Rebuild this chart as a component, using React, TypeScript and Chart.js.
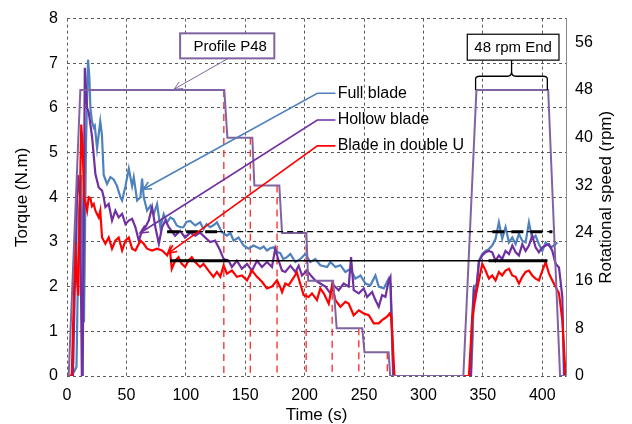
import React, { useEffect, useRef } from 'react';
import { Chart, registerables } from 'chart.js';

Chart.register(...registerables);

// ---------------- data (time s, torque N.m) ----------------
const fullBlade: [number, number][] = [
  [0, 0], [3, 0], [6, 0.1], [8, 0.2], [10, 3.6], [12, 4.5], [14.3, 1.2], [16, 5.2], [17.7, 7.08], [18.8, 6.7],
  [19.7, 6.0], [21, 5.7], [22.5, 5.56], [23.4, 5.6], [25.3, 5.1], [28, 5.7], [29.4, 5.4], [30.9, 4.5], [33.7, 4.3],
  [36.5, 4.45], [39.3, 4.4], [42.1, 4.25], [45, 4.0], [46.4, 3.93], [49.2, 4.25], [52, 4.64], [54.8, 4.25],
  [56.2, 4.45], [59, 3.93], [61.8, 4.0], [63.2, 4.42], [64.6, 4.0], [67.4, 3.7], [70.2, 3.81], [73, 3.62],
  [75.8, 3.85], [78.6, 3.33], [81.4, 3.62], [84.2, 3.44], [87, 3.55], [89.6, 3.51], [92.4, 3.37], [95.4, 3.33],
  [98, 3.33], [100.5, 3.45], [103.7, 3.47], [107.9, 3.37], [112, 3.44], [114.9, 3.29], [117.5, 3.4], [120.5, 3.33],
  [123.5, 3.38], [126.2, 3.44], [130.4, 3.22], [134.6, 3.14], [137.5, 3.2], [140.2, 3.03], [144.4, 3.1],
  [148.6, 2.92], [152.8, 2.85], [157, 2.92], [160, 2.88], [162.7, 2.85], [165.5, 2.9], [168.3, 2.81], [171, 2.86],
  [173.9, 2.88], [176.5, 2.78], [179.5, 2.75], [182, 2.62], [185.2, 2.66], [188, 2.73], [192.2, 2.55],
  [196.4, 2.62], [200.6, 2.73], [204.8, 2.55], [209, 2.62], [213.2, 2.48], [218.9, 2.44], [221.7, 2.55],
  [225.9, 2.44], [230.1, 2.48], [234.3, 2.33], [238.5, 2.4], [242.7, 2.18], [247, 2.25], [251.2, 2.07],
  [255.4, 2.03], [259.6, 2.25], [262.4, 2.0], [266.6, 1.96], [270.8, 2.18], [272.2, 2.07], [274.5, 0],
  [340, 0], [341.5, 0.9], [342.4, 1.99], [345.2, 2.06], [346.7, 2.58], [349.5, 2.73], [352.3, 2.8], [355.1, 2.84],
  [357.9, 2.92], [360.7, 3.07], [363.5, 3.44], [366.3, 3.07], [369.1, 3.33], [372, 2.99], [374.8, 3.1],
  [377.6, 2.95], [380.4, 3.18], [383.2, 3.03], [386, 2.99], [388.8, 3.44], [391.6, 3.07], [394.4, 3.14],
  [397.2, 2.95], [400.1, 2.8], [402.9, 2.99], [407.1, 2.88], [409.9, 2.92], [412.7, 2.99],
];

const hollowBlade: [number, number][] = [
  [0, 0], [5, 0], [7, 2.5], [9, 4.5], [11, 4.0], [12.5, 0], [13.2, 0], [15, 6.9], [16.9, 6.0], [18.3, 5.9],
  [21.1, 5.35], [23.9, 4.52], [26.7, 4.22], [29.5, 4.15], [30.9, 4.0], [32.3, 3.78], [35.1, 3.85], [37.9, 3.48],
  [40.7, 3.7], [43.5, 3.55], [46.4, 3.63], [49.2, 3.4], [52, 3.48], [54.8, 3.52], [57.6, 3.33], [60.4, 3.03],
  [63.2, 3.25], [66, 3.33], [68.8, 3.48], [71.6, 3.78], [74.4, 3.33], [77.3, 2.96], [80, 3.33], [82.9, 3.48],
  [85.7, 3.33], [88, 3.25], [91, 3.14], [95.2, 3.25], [99.4, 3.1], [103.7, 3.21], [107.9, 3.14], [112, 3.21],
  [116.3, 3.1], [120.5, 3.0], [124.7, 3.03], [128.9, 2.81], [131.8, 2.62], [136, 2.58], [138.8, 2.44],
  [143, 2.58], [147.2, 2.4], [151.5, 2.51], [155.7, 2.36], [159.9, 2.58], [164.1, 2.44], [168.3, 2.55],
  [172.5, 2.44], [175.3, 2.85], [178.1, 2.58], [181, 2.36], [183.7, 2.33], [188, 2.47], [192.2, 2.33],
  [195, 2.47], [197.8, 2.25], [202, 2.36], [206.2, 2.22], [209, 2.14], [213.2, 2.07], [217.5, 2.0],
  [221.7, 1.85], [224.5, 2.03], [228.7, 1.92], [232.9, 2.07], [237.1, 2.0], [239.1, 2.66], [241.3, 1.92],
  [245.6, 1.85], [249.8, 1.96], [252.6, 1.77], [256.8, 1.88], [259.6, 1.7], [262.4, 1.55], [265.2, 1.81],
  [268, 1.77], [270.8, 2.14], [272.2, 2.22], [274.8, 0], [340, 0], [341, 1.32], [342.4, 1.91], [343.8, 1.77],
  [346.7, 2.55], [349.5, 2.7], [352.3, 2.77], [355.1, 2.8], [357.9, 2.77], [360.7, 2.58], [363.5, 2.7],
  [366.3, 2.62], [369.1, 2.8], [372, 2.73], [374.8, 2.92], [377.6, 2.77], [380.4, 2.7], [383.2, 2.95],
  [386, 2.8], [388.8, 2.92], [391.6, 3.14], [394.4, 2.88], [397.2, 2.77], [400.1, 2.88], [402.9, 2.92],
  [405.7, 2.95], [408.5, 2.8], [411.3, 2.51], [414.1, 2.43], [416.9, 1.77], [418.3, 0], [420, 0],
];

const doubleUBlade: [number, number][] = [
  [0, 0], [4, 0], [5.5, 1.5], [7, 3.0], [8.2, 2.2], [9.5, 1.8], [10.5, 3.5], [12, 5.63], [13, 5.2], [14.5, 4.0],
  [16.9, 3.7], [18.3, 4.0], [19.7, 3.98], [21, 3.8], [22.5, 3.85], [23.9, 3.7], [26.7, 3.55], [28, 3.7],
  [29.5, 3.1], [32.3, 2.96], [35.1, 3.1], [37.9, 2.85], [40.7, 3.03], [43.5, 3.1], [46.4, 2.81], [49.2, 3.03],
  [52, 3.1], [54.8, 2.85], [57.6, 2.81], [61.8, 3.03], [64.6, 2.96], [67.4, 2.85], [71.6, 2.81], [75.8, 2.85],
  [80, 2.81], [84.3, 2.7], [86.5, 2.85], [88.2, 2.4], [91, 2.58], [93.8, 2.66], [96.6, 2.51], [99.4, 2.44],
  [102.2, 2.58], [105, 2.66], [107.9, 2.55], [112, 2.44], [114.9, 2.51], [119.1, 2.36], [123.3, 2.22],
  [126.2, 2.33], [129, 2.22], [131.8, 2.47], [134.6, 2.29], [138.8, 2.36], [143, 2.22], [147.2, 2.25],
  [151.5, 2.14], [155.7, 2.36], [159.9, 2.22], [164.1, 2.11], [168.3, 1.96], [172.5, 2.0], [176.7, 2.14],
  [179.5, 1.99], [181, 1.88], [183.7, 2.07], [186.5, 2.03], [190.7, 2.2], [193.5, 2.32], [196.4, 2.06],
  [199.2, 1.81], [203.4, 1.77], [206.2, 1.85], [210.4, 1.7], [213.2, 1.96], [216.1, 1.85], [220.3, 1.62],
  [223.1, 2.03], [225.9, 1.7], [230.1, 1.55], [234.3, 1.66], [237.1, 1.62], [241.3, 1.36], [245.6, 1.47],
  [249.8, 1.4], [254, 1.36], [258.2, 1.18], [262.4, 1.18], [265.2, 1.25], [269.4, 1.33], [271.7, 1.4],
  [273, 1.3], [275.6, 0], [338.3, 0], [341, 1.25], [343.8, 1.77], [346.7, 2.14], [349.5, 2.51], [352.3, 2.36],
  [355.1, 2.18], [357.9, 2.25], [360.7, 2.14], [363.5, 2.33], [366.3, 2.25], [369.1, 2.36], [372, 2.4],
  [374.8, 2.25], [377.6, 2.22], [380.4, 2.07], [383.2, 2.22], [386, 2.33], [388.8, 2.36], [391.6, 2.25],
  [394.4, 2.18], [397.2, 2.14], [400.1, 2.36], [402.9, 2.55], [405.7, 2.29], [408.5, 2.14], [411.3, 1.99],
  [414.1, 1.85], [416.9, 1.25], [419.7, 0],
];

// Rotational speed profile P48 (time s, rpm)
const profileTime = [0, 1.4, 11.2, 132.4, 135, 156, 157.7, 178.7, 181, 201.5, 203, 224, 227, 248.5, 250.4, 270.7, 272, 333.6, 344.6, 405, 415, 420];
const profileRpm = [0, 0, 48, 48, 40, 40, 32, 32, 24, 24, 16, 16, 8, 8, 4, 4, 0, 0, 48, 48, 0, 0];

// Step change markers (time s, rpm of the step)
const stepMarkTime = [132, 154.3, 176.8, 201.3, 223.2, 245.6, 269.6];
const stepMarkRpm = [48, 40, 32, 24, 16, 8, 4];

// Mean torque levels
const meanDashedTorque = 3.23;
const meanDashedSpan: [number, number] = [84.3, 408.5];
const meanDashedBold: [number, number][] = [[84.3, 133], [358, 408.5]];
const meanSolidTorque = 2.58;
const meanSolidSpan: [number, number] = [86.8, 404.3];
const meanSolidBold: [number, number][] = [[86.8, 135.7], [354.8, 404.3]];

// Ticks
const timeTicks = [0, 50, 100, 150, 200, 250, 300, 350, 400];
const torqueTicks = [0, 1, 2, 3, 4, 5, 6, 7, 8];
const rpmTicks = [0, 8, 16, 24, 32, 40, 48, 56];

const seriesNames = ['Full blade', 'Hollow blade', 'Blade in double U'];
const profileLabel = 'Profile P48';
const endLabel = '48 rpm End';

// ---------------- annotation layout (data coordinates) ----------------
const calloutTips: [number, number][] = [[64.1, 4.18], [61.5, 3.2], [85.4, 2.75]];
const calloutKneeY = [6.33, 5.73, 5.15];
const calloutKneeX = 210.7;
const calloutEndX = 225.9;
const calloutTextX = 227.8;

const profileBox = { x0: 95.2, x1: 174.5, y0: 7.67, y1: 7.11 };
const profileArrow = { fx: 135.7, fy: 7.11, tx: 90.2, ty: 6.42 };
const endBox = { x0: 336.9, x1: 414.1, y0: 7.65, y1: 7.07 };
const endBrace = { x0: 343.9, x1: 404.3, xm: 374.2, top: 6.71, bottom: 6.4, tip: 7.07 };

const COLORS = {
  full: '#4F81BD',
  hollow: '#7030A0',
  doubleU: '#FF0000',
  profile: '#8064A2',
  grid: '#5a5a5a',
};
const FONT = "'Liberation Sans', Arial, sans-serif";

const toXY = (pts: [number, number][]) => pts.map(([x, y]) => ({ x, y }));

function segmentsData(spans: [number, number][], y: number) {
  const out: any[] = [];
  spans.forEach(([a, b], i) => {
    if (i > 0) out.push({ x: a, y: null });
    out.push({ x: a, y }, { x: b, y });
  });
  return out;
}

function arrowHead(ctx: CanvasRenderingContext2D, fx: number, fy: number, tx: number, ty: number, size: number) {
  const ang = Math.atan2(ty - fy, tx - fx);
  const a = 0.45;
  ctx.beginPath();
  ctx.moveTo(tx - size * Math.cos(ang - a), ty - size * Math.sin(ang - a));
  ctx.lineTo(tx, ty);
  ctx.lineTo(tx - size * Math.cos(ang + a), ty - size * Math.sin(ang + a));
  ctx.stroke();
}

const annotationPlugin = {
  id: 'customAnnotations',
  afterDatasetsDraw(chart: any) {
    const { ctx, scales, chartArea } = chart;
    const X = (v: number) => scales.x.getPixelForValue(v);
    const Y = (v: number) => scales.y.getPixelForValue(v);
    ctx.save();
    ctx.setLineDash([]);

    // Callouts
    const cColors = [COLORS.full, COLORS.hollow, COLORS.doubleU];
    ctx.lineWidth = 1.6;
    calloutTips.forEach(([tx, ty], i) => {
      ctx.strokeStyle = cColors[i];
      const kx = X(calloutKneeX), ky = Y(calloutKneeY[i]);
      ctx.beginPath();
      ctx.moveTo(X(tx), Y(ty));
      ctx.lineTo(kx, ky);
      ctx.lineTo(X(calloutEndX), ky);
      ctx.stroke();
      arrowHead(ctx, kx, ky, X(tx), Y(ty), 9);
      ctx.fillStyle = '#000';
      ctx.font = `16px ${FONT}`;
      ctx.textAlign = 'left';
      ctx.textBaseline = 'middle';
      ctx.fillText(seriesNames[i], X(calloutTextX), ky);
    });

    // Profile box and arrow
    ctx.fillStyle = '#fff';
    const bx = X(profileBox.x0), by = Y(profileBox.y0);
    const bw = X(profileBox.x1) - bx, bh = Y(profileBox.y1) - by;
    ctx.fillRect(bx, by, bw, bh);
    ctx.strokeStyle = COLORS.profile;
    ctx.lineWidth = 2;
    ctx.strokeRect(bx, by, bw, bh);
    ctx.fillStyle = '#000';
    ctx.font = `15px ${FONT}`;
    ctx.textAlign = 'center';
    ctx.textBaseline = 'middle';
    ctx.fillText(profileLabel, bx + bw / 2 + 3, by + bh / 2 + 1);
    ctx.lineWidth = 1;
    ctx.beginPath();
    ctx.moveTo(X(profileArrow.fx), Y(profileArrow.fy));
    ctx.lineTo(X(profileArrow.tx), Y(profileArrow.ty));
    ctx.stroke();
    arrowHead(ctx, X(profileArrow.fx), Y(profileArrow.fy), X(profileArrow.tx), Y(profileArrow.ty), 9);

    // End box
    const ex = X(endBox.x0), ey = Y(endBox.y0);
    const ew = X(endBox.x1) - ex, eh = Y(endBox.y1) - ey;
    ctx.fillStyle = '#fff';
    ctx.fillRect(ex, ey, ew, eh);
    ctx.strokeStyle = '#000';
    ctx.lineWidth = 1.2;
    ctx.strokeRect(ex, ey, ew, eh);
    ctx.fillStyle = '#000';
    ctx.fillText(endLabel, ex + ew / 2, ey + eh / 2 + 1);

    // Brace
    const l = X(endBrace.x0), r = X(endBrace.x1), m = X(endBrace.xm);
    const t = Y(endBrace.top), b = Y(endBrace.bottom), tip = Y(endBrace.tip);
    ctx.lineWidth = 1.3;
    ctx.beginPath();
    ctx.moveTo(l, b);
    ctx.lineTo(l, t + 3);
    ctx.quadraticCurveTo(l, t, l + 4, t);
    ctx.lineTo(m - 4, t);
    ctx.quadraticCurveTo(m, t, m, t - 5);
    ctx.lineTo(m, tip);
    ctx.moveTo(m, t - 5);
    ctx.quadraticCurveTo(m, t, m + 4, t);
    ctx.lineTo(r - 4, t);
    ctx.quadraticCurveTo(r, t, r, t + 3);
    ctx.lineTo(r, b);
    ctx.stroke();

    // Right axis title (reads bottom to top)
    ctx.save();
    ctx.translate(scales.y1.right - 26, (chartArea.top + chartArea.bottom) / 2);
    ctx.rotate(-Math.PI / 2);
    ctx.font = `17px ${FONT}`;
    ctx.textAlign = 'center';
    ctx.textBaseline = 'middle';
    ctx.fillText('Rotational speed (rpm)', 0, 0);
    ctx.restore();

    ctx.restore();
  },
};

export default function App() {
  const ref = useRef<HTMLCanvasElement | null>(null);
  useEffect(() => {
    if (!ref.current) return;
    Chart.defaults.font.family = FONT;
    Chart.defaults.color = '#000';

    const markerData: any[] = [];
    stepMarkTime.forEach((t, i) => {
      markerData.push({ x: t, y: stepMarkRpm[i] }, { x: t, y: 0 }, { x: t, y: null });
    });

    const line = (extra: any) => ({
      pointRadius: 0,
      tension: 0,
      fill: false,
      spanGaps: false,
      ...extra,
    });

    const chart = new Chart(ref.current, {
      type: 'line',
      data: {
        datasets: [
          line({ label: seriesNames[0], data: toXY(fullBlade), borderColor: COLORS.full, borderWidth: 2.2, yAxisID: 'y', order: 4 }),
          line({ label: seriesNames[1], data: toXY(hollowBlade), borderColor: COLORS.hollow, borderWidth: 2.2, yAxisID: 'y', order: 3 }),
          line({ label: seriesNames[2], data: toXY(doubleUBlade), borderColor: COLORS.doubleU, borderWidth: 2.2, yAxisID: 'y', order: 2 }),
          line({ label: profileLabel, data: profileTime.map((x, i) => ({ x, y: profileRpm[i] })), borderColor: COLORS.profile, borderWidth: 2, yAxisID: 'y1', order: 1 }),
          line({ label: 'steps', data: markerData, borderColor: 'rgba(255,30,30,0.9)', borderWidth: 1.4, borderDash: [7, 5], yAxisID: 'y1', order: 6 }),
          line({ label: 'mean dashed', data: segmentsData([meanDashedSpan], meanDashedTorque), borderColor: '#000', borderWidth: 1.2, borderDash: [6, 4], yAxisID: 'y', order: 0 }),
          line({ label: 'mean dashed bold', data: segmentsData(meanDashedBold, meanDashedTorque), borderColor: '#000', borderWidth: 3, borderDash: [12, 7], yAxisID: 'y', order: 0 }),
          line({ label: 'mean solid', data: segmentsData([meanSolidSpan], meanSolidTorque), borderColor: '#000', borderWidth: 1.6, yAxisID: 'y', order: 0 }),
          line({ label: 'mean solid bold', data: segmentsData(meanSolidBold, meanSolidTorque), borderColor: '#000', borderWidth: 3, yAxisID: 'y', order: 0 }),
        ],
      },
      options: {
        responsive: false,
        animation: false,
        devicePixelRatio: 1,
        events: [],
        layout: { padding: { top: 17, left: 0, right: 0, bottom: 0 } },
        plugins: { legend: { display: false }, tooltip: { enabled: false } },
        scales: {
          x: {
            type: 'linear',
            min: 0,
            max: 420,
            afterBuildTicks: (s: any) => { s.ticks = timeTicks.map((v) => ({ value: v })); },
            afterFit: (s: any) => { s.height = 48; },
            ticks: { font: { size: 16 }, color: '#000', padding: 10, autoSkip: false, maxRotation: 0 },
            grid: { color: COLORS.grid, lineWidth: 1, drawTicks: false, tickLength: 0 },
            border: { display: false, dash: [3, 3] },
            title: { display: true, text: 'Time (s)', font: { size: 17, lineHeight: 1 }, color: '#000', padding: { top: 0, bottom: 0 } },
          },
          y: {
            type: 'linear',
            position: 'left',
            min: 0,
            max: 8,
            afterBuildTicks: (s: any) => { s.ticks = torqueTicks.map((v) => ({ value: v })); },
            afterFit: (s: any) => { s.width = 67; },
            ticks: { font: { size: 16 }, color: '#000', padding: 9 },
            grid: { color: COLORS.grid, lineWidth: 1, drawTicks: false, tickLength: 0 },
            border: { display: false, dash: [3, 3] },
            title: { display: true, text: 'Torque (N.m)', font: { size: 17, lineHeight: 1 }, color: '#000', padding: { top: 13.5, bottom: 0 } },
          },
          y1: {
            type: 'linear',
            position: 'right',
            min: 0,
            max: 60,
            afterBuildTicks: (s: any) => { s.ticks = rpmTicks.map((v) => ({ value: v })); },
            afterFit: (s: any) => { s.width = 66; },
            ticks: { font: { size: 16 }, color: '#000', padding: 9 },
            grid: { drawOnChartArea: false, drawTicks: false, tickLength: 0 },
            border: { display: true, color: '#8c8c8c', width: 1 },
          },
        },
      },
      plugins: [annotationPlugin],
    } as any);
    return () => chart.destroy();
  }, []);

  return (
    <canvas
      ref={ref}
      width={632}
      height={424}
      style={{ position: 'fixed', left: 0, top: 0, width: 632, height: 424, background: '#fff' }}
    />
  );
}
